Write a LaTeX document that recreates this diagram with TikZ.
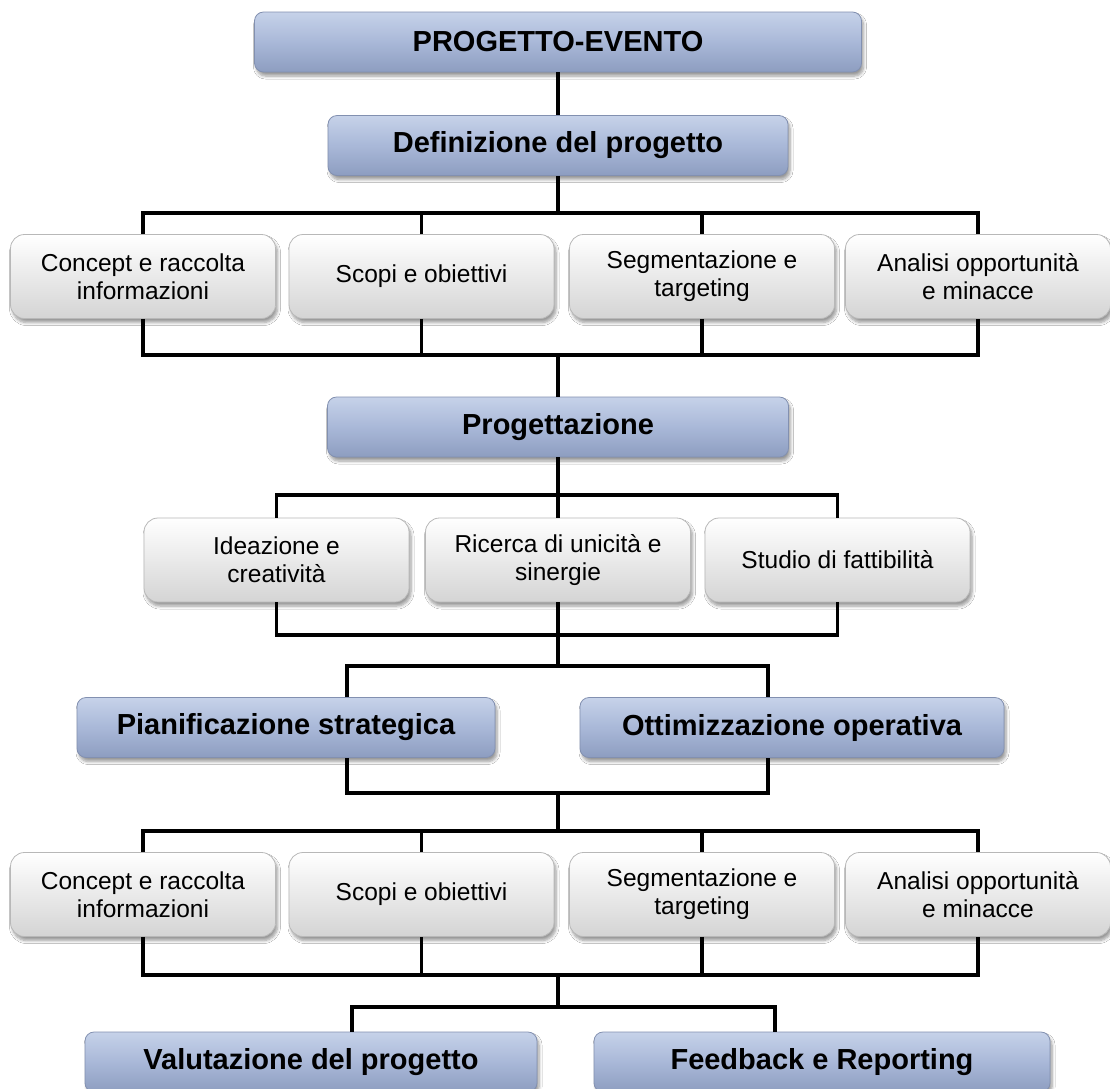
\documentclass[tikz,border=0pt]{standalone}
\usepackage{fontspec}
\setmainfont{Liberation Sans}
\usetikzlibrary{shadows.blur,calc}

\definecolor{bluetop}{HTML}{C6D2E9}
\definecolor{bluemid}{HTML}{A9B8D8}
\definecolor{bluebot}{HTML}{8D9DC0}
\definecolor{bluebord}{HTML}{8290B0}
\definecolor{greybot}{HTML}{D4D4D4}
\definecolor{greybord}{HTML}{B8B8B8}

\tikzset{
  boxshadow/.style={blur shadow={shadow xshift=2pt, shadow yshift=-4pt,
      shadow blur steps=6, shadow blur radius=3pt, shadow opacity=40}},
  phase/.style={draw=bluebord, line width=0.8pt, rounded corners=9pt,
      top color=bluetop, bottom color=bluebot, middle color=bluemid,
      inner sep=0pt, align=center, minimum height=60pt,
      font=\fontsize{29}{33}\selectfont\bfseries, boxshadow},
  task/.style={draw=greybord, line width=0.8pt, rounded corners=14pt,
      top color=white, bottom color=greybot,
      inner sep=0pt, align=center, minimum width=265pt, minimum height=84pt,
      font=\fontsize{24.5}{28}\selectfont, boxshadow},
  link/.style={draw=black, line width=3.5pt, line join=miter}
}

\begin{document}
\begin{tikzpicture}[x=1pt, y=-1pt]
  \fill[white] (0,0) rectangle (1110,1088);
  \useasboundingbox (0,0) rectangle (1110,1088);

  % main phases
  \node[phase, minimum width=607pt] (top)  at (558,42)    {PROGETTO-EVENTO};
  \node[phase, minimum width=460pt] (def)  at (558,145.5) {Definizione del progetto};
  \node[phase, minimum width=461pt] (prog) at (558,427)   {Progettazione};
  \node[phase, minimum width=418pt] (pian) at (286,727.5) {Pianificazione strategica};
  \node[phase, minimum width=424pt] (ott)  at (792,727.5) {Ottimizzazione operativa};
  \node[phase, minimum width=452pt] (val)  at (311,1062)  {Valutazione del progetto};
  \node[phase, minimum width=456pt] (fb)   at (822,1062)  {Feedback e Reporting};

  % first row of activities
  \node[task] (a1) at (143,276.5)   {Concept e raccolta\\informazioni};
  \node[task] (a2) at (421.5,276.5) {Scopi e obiettivi};
  \node[task] (a3) at (702,276.5)   {Segmentazione e\\targeting};
  \node[task] (a4) at (978,276.5)   {Analisi opportunità\\e minacce};

  % second row of activities
  \node[task] (r1) at (276.5,560) {Ideazione e\\creatività};
  \node[task] (r2) at (558,560)   {Ricerca di unicità e\\sinergie};
  \node[task] (r3) at (837.5,560) {Studio di fattibilità};

  % third row of activities
  \node[task] (d1) at (143,894.5)   {Concept e raccolta\\informazioni};
  \node[task] (d2) at (421.5,894.5) {Scopi e obiettivi};
  \node[task] (d3) at (702,894.5)   {Segmentazione e\\targeting};
  \node[task] (d4) at (978,894.5)   {Analisi opportunità\\e minacce};

  % bus levels
  \coordinate (b1) at (558,213);
  \coordinate (c1) at (558,355);
  \coordinate (b2) at (558,495);
  \coordinate (c2) at (558,635);
  \coordinate (b3) at (558,666);
  \coordinate (c3) at (558,793);
  \coordinate (b4) at (558,831);
  \coordinate (c4) at (558,975);
  \coordinate (b5) at (558,1007);

  % attachment points on the side-by-side phases
  \coordinate (pin)  at ([xshift=61pt]pian.north);
  \coordinate (pout) at ([xshift=61pt]pian.south);
  \coordinate (oin)  at ([xshift=-24pt]ott.north);
  \coordinate (oout) at ([xshift=-24pt]ott.south);
  \coordinate (vin)  at ([xshift=41pt]val.north);
  \coordinate (fin)  at ([xshift=-47pt]fb.north);

  % connectors
  \draw[link] (top.south) -- (top.south |- def.north);

  \draw[link] (def.south) -- (b1);
  \draw[link] (a1.north) |- (b1) -| (a4.north);
  \draw[link] (a2.north) -- (a2.north |- b1);
  \draw[link] (a3.north) -- (a3.north |- b1);

  \draw[link] (a1.south) |- (c1) -| (a4.south);
  \draw[link] (a2.south) -- (a2.south |- c1);
  \draw[link] (a3.south) -- (a3.south |- c1);
  \draw[link] (c1) -- (c1 |- prog.north);

  \draw[link] (prog.south) -- (b2);
  \draw[link] (r1.north) |- (b2) -| (r3.north);
  \draw[link] (r2.north) -- (b2);

  \draw[link] (r1.south) |- (c2) -| (r3.south);
  \draw[link] (r2.south) -- (c2);
  \draw[link] (c2) -- (b3);

  \draw[link] (pin) |- (b3) -| (oin);
  \draw[link] (pout) |- (c3) -| (oout);
  \draw[link] (c3) -- (b4);

  \draw[link] (d1.north) |- (b4) -| (d4.north);
  \draw[link] (d2.north) -- (d2.north |- b4);
  \draw[link] (d3.north) -- (d3.north |- b4);

  \draw[link] (d1.south) |- (c4) -| (d4.south);
  \draw[link] (d2.south) -- (d2.south |- c4);
  \draw[link] (d3.south) -- (d3.south |- c4);
  \draw[link] (c4) -- (b5);

  \draw[link] (vin) |- (b5) -| (fin);
\end{tikzpicture}
\end{document}
